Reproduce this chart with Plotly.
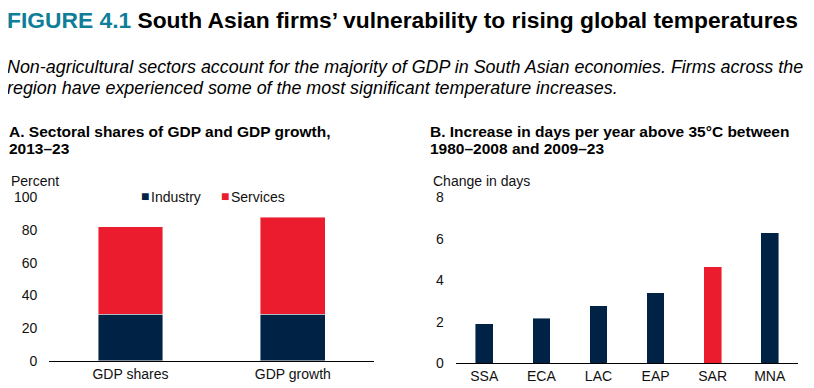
import plotly.graph_objects as go

# ---------------- Data ----------------
a_categories = ["GDP shares", "GDP growth"]
a_series = ["Industry", "Services"]
a_industry = [28.5, 28.5]
a_services = [53.5, 59.3]
a_ticks = [0, 20, 40, 60, 80, 100]

b_categories = ["SSA", "ECA", "LAC", "EAP", "SAR", "MNA"]
b_values = [1.9, 2.17, 2.77, 3.4, 4.65, 6.28]
b_highlight = "SAR"
b_ticks = [0, 2, 4, 6, 8]

NAVY = "#002345"
RED = "#EB1C2D"
TEAL = "#0F7E99"
FONT = "Liberation Sans, Arial, sans-serif"

# the page places the figure 8px from the top-left corner of the window
OFF = 8
W, H = 814 - OFF, 388 - OFF
def px(x):
    return (x - OFF) / W
def py(y):
    return 1 - (y - OFF) / H

fig = go.Figure()

edge = dict(color="rgba(255,255,255,0.55)", width=0.8)

fig.add_trace(go.Bar(x=a_categories, y=a_industry, name=a_series[0],
                     marker=dict(color=NAVY, line=edge), width=0.4,
                     xaxis="x", yaxis="y", showlegend=False))
fig.add_trace(go.Bar(x=a_categories, y=a_services, name=a_series[1],
                     marker=dict(color=RED, line=edge), width=0.4,
                     xaxis="x", yaxis="y", showlegend=False))

b_colors = [RED if c == b_highlight else NAVY for c in b_categories]
fig.add_trace(go.Bar(x=b_categories, y=b_values, marker=dict(color=b_colors, line=edge),
                     width=0.31, xaxis="x2", yaxis="y2", showlegend=False))

axis_common = dict(showgrid=False, zeroline=False, ticks="", automargin=False,
                   tickfont=dict(family=FONT, size=14, color="#111"))

fig.update_layout(
    width=W, height=H,
    margin=dict(l=0, r=0, t=0, b=0, pad=0, autoexpand=False),
    paper_bgcolor="white", plot_bgcolor="white",
    barmode="stack",
    font=dict(family=FONT, color="#000"),
    xaxis=dict(domain=[px(49.3), px(374)], anchor="y", showline=True,
               linecolor="#000", linewidth=1, **axis_common),
    yaxis=dict(domain=[py(360.7), py(197.3)], anchor="x", range=[0, 100],
               tickvals=a_ticks, showline=False, ticklabelstandoff=11, **axis_common),
    xaxis2=dict(domain=[px(455.7), px(798.3)], anchor="y2", showline=True,
                linecolor="#000", linewidth=1, **axis_common),
    yaxis2=dict(domain=[py(363.3), py(197.3)], anchor="x2", range=[0, 8],
                tickvals=b_ticks, showline=False, ticklabelstandoff=11, **axis_common),
    showlegend=False,
)

def text_ann(text, x, y, size, color="#000", xanchor="left"):
    return dict(text=text, x=px(x), y=py(y), xref="paper", yref="paper",
                xanchor=xanchor, yanchor="middle", showarrow=False,
                font=dict(family=FONT, size=size, color=color))

ann = []
ann.append(text_ann("<b><span style='color:%s'>FIGURE 4.1</span> South Asian firms’ vulnerability to rising global temperatures</b>" % TEAL,
                    5, 20, 22.8))
ann.append(text_ann("<i>Non-agricultural sectors account for the majority of GDP in South Asian economies. Firms across the</i>",
                    5, 67, 17.9))
ann.append(text_ann("<i>region have experienced some of the most significant temperature increases.</i>",
                    5, 88, 17.9))
ann.append(text_ann("<b>A. Sectoral shares of GDP and GDP growth,</b>", 7, 131, 15.5))
ann.append(text_ann("<b>2013–23</b>", 7, 149, 15.5))
ann.append(text_ann("<b>B. Increase in days per year above 35°C between</b>", 428, 131, 15.5))
ann.append(text_ann("<b>1980–2008 and 2009–23</b>", 428, 149, 15.5))
ann.append(text_ann("Percent", 9, 181, 14, "#111"))
ann.append(text_ann("Change in days", 431, 181, 14, "#111"))

# legend for panel A
legend_pos = [(144.5, 149), (224.5, 229)]
legend_cols = [NAVY, RED]
for name, col, (sx, tx) in zip(a_series, legend_cols, legend_pos):
    ann.append(text_ann("■", sx, 196.5, 14, col, xanchor="center"))
    ann.append(text_ann(name, tx, 197, 14, "#111"))

fig.update_layout(annotations=ann)

fig.write_html("out.html")
